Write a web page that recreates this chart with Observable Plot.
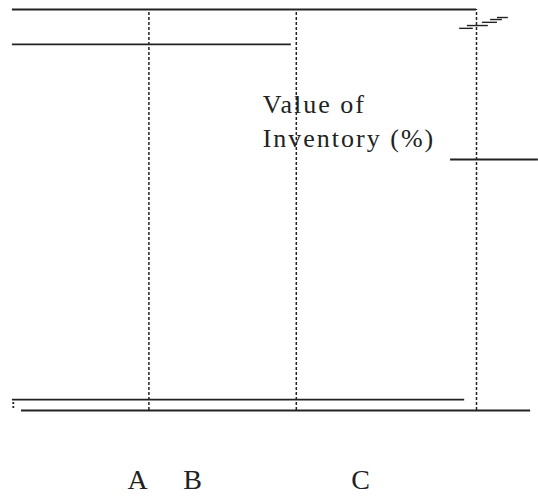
<!DOCTYPE html>
<html>
<head>
<meta charset="utf-8">
<script src="https://cdn.jsdelivr.net/npm/d3@7"></script>
<script src="https://cdn.jsdelivr.net/npm/@observablehq/plot@0.6"></script>
<style>
  html, body { margin: 0; padding: 0; background: #fff; }
  #chart svg { display: block; }
</style>
</head>
<body>
<div id="chart"></div>
<script>
// ABC analysis diagram: x = % of items, y = cumulative % of inventory value
const classes = ["A", "B", "C"];
const classLabelPos = [25.5, 37.6, 74.5];          // % of items (label centres)
const classBoundaries = [28, 60.4, 100];            // % of items
const levelNames = ["total", "A+B", "mid", "base", "axis"];
const levelValues = [100, 91.3, 62.6, 2.7, 0];      // % of value
const levelStart = [-2, -2, 94.3, -2, 0];           // % of items
const levelEnd = [100, 59.3, 113.6, 97.4, 111.9];   // % of items
const tailStart = [96.3, 98.0, 101.3, 103.1, 104.6];
const tailEnd = [99.3, 102.6, 104.6, 105.7, 107.0];
const tailValue = [95.3, 96.0, 96.8, 97.5, 98.0];
const axisLabelLines = ["Value of", "Inventory (%)"];
const axisLabelValue = [74.3, 65.6];

const levels = levelNames.map((n, i) => ({name: n, y: levelValues[i], x1: levelStart[i], x2: levelEnd[i]}));
const tail = tailValue.map((v, i) => ({y: v, x1: tailStart[i], x2: tailEnd[i]}));
const classData = classes.map((c, i) => ({label: c, x: classLabelPos[i]}));
const axisLabel = axisLabelLines.map((t, i) => ({text: t, y: axisLabelValue[i]}));

const ink = "#222";
const serif = "'Liberation Serif', 'Times New Roman', serif";
const chart = Plot.plot({
  width: 538,
  height: 496,
  marginLeft: 21,
  marginRight: 62,
  marginTop: 9,
  marginBottom: 86,
  x: {domain: [0, 100], axis: null},
  y: {domain: [0, 100], axis: null},
  style: {background: "#fff", overflow: "visible"},
  marks: [
    Plot.ruleX(classBoundaries, {x: d => d, y1: 0, y2: 100, stroke: ink, strokeWidth: 1.5, strokeDasharray: "3,2"}),
    Plot.ruleX([-1.8], {x: d => d, y1: 0.5, y2: 2.2, stroke: ink, strokeWidth: 1.8, strokeDasharray: "2,2"}),
    Plot.ruleY(levels, {y: "y", x1: "x1", x2: "x2", stroke: ink, strokeWidth: 1.9}),
    Plot.ruleY(tail, {y: "y", x1: "x1", x2: "x2", stroke: ink, strokeWidth: 1.4}),
    Plot.text(axisLabel, {x: 53.0, y: "y", text: "text", textAnchor: "start", lineAnchor: "bottom",
      fontFamily: serif, fontSize: 26, fill: ink}),
    Plot.text(classData, {x: "x", y: -19.7, text: "label", textAnchor: "middle", lineAnchor: "bottom",
      fontFamily: serif, fontSize: 28, fill: ink})
  ]
});
d3.select(chart).selectAll("text").filter(function() {
  const t = this.textContent;
  return t === "Value of" || t === "Inventory (%)";
}).style("letter-spacing", "2px");
document.getElementById("chart").appendChild(chart);
</script>
</body>
</html>
